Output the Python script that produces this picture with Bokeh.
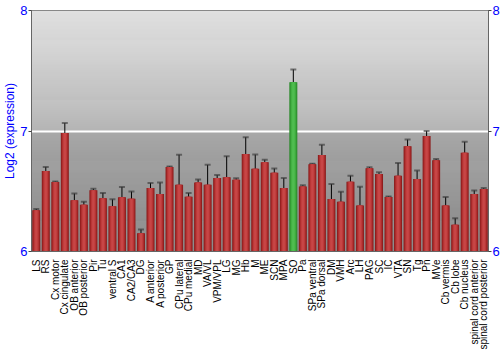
import numpy as np
from bokeh.plotting import figure
from bokeh.models import (ColumnDataSource, Whisker, TeeHead, BoxAnnotation,
                          FixedTicker, LinearAxis, Range1d)
from bokeh.embed import file_html
from bokeh.resources import INLINE

categories = ["LS", "RS", "Cx motor", "Cx cingulate", "OB anterior", "OB posterior",
              "Pir", "Tu", "ventral S", "CA1", "CA2/CA3", "DG", "A anterior",
              "A posterior", "GP", "CPu lateral", "CPu medial", "MD", "VA/VL",
              "VPM/VPL", "LG", "MG", "Hb", "M", "ME", "SCN", "MPA", "SO", "Pa",
              "SPa ventral", "SPa dorsal", "DM", "VMH", "Arc", "LH", "PAG", "SC",
              "IC", "VTA", "SN", "Tg", "Pn", "MVe", "Cb vermis", "Cb lobe",
              "Cb nucleus", "spinal cord anterior", "spinal cord posterior"]
values = [6.343, 6.669, 6.577, 6.983, 6.426, 6.387, 6.509, 6.442, 6.376, 6.450,
          6.437, 6.152, 6.528, 6.478, 6.702, 6.554, 6.455, 6.573, 6.554, 6.609,
          6.617, 6.595, 6.810, 6.686, 6.741, 6.653, 6.526, 7.405, 6.540, 6.725,
          6.800, 6.436, 6.413, 6.578, 6.382, 6.690, 6.643, 6.453, 6.629, 6.874,
          6.602, 6.958, 6.757, 6.382, 6.222, 6.820, 6.477, 6.518]
errors = [0.010, 0.033, 0.004, 0.083, 0.055, 0.026, 0.012, 0.044, 0.057, 0.086,
          0.061, 0.030, 0.041, 0.094, 0.004, 0.249, 0.030, 0.025, 0.165, 0.025,
          0.174, 0.012, 0.139, 0.118, 0.020, 0.036, 0.083, 0.106, 0.010, 0.004,
          0.085, 0.124, 0.083, 0.051, 0.155, 0.010, 0.014, 0.004, 0.106, 0.055,
          0.070, 0.043, 0.010, 0.070, 0.054, 0.090, 0.030, 0.008]
highlight = "SO"
y_ticks = [6, 7, 8]

n = len(categories)
x = np.arange(n) + 0.5
vals = np.array(values)
errs = np.array(errors)
is_hi = [c == highlight for c in categories]

src = ColumnDataSource(dict(
    x=x, top=vals, upper=vals + errs, lower=vals - errs,
    c0=["#2b8a2b" if h else "#8c1c1c" for h in is_hi],
    c1=["#38a038" if h else "#a82a2a" for h in is_hi],
    c2=["#46b446" if h else "#bd3a3a" for h in is_hi],
    c3=["#50bc50" if h else "#c74646" for h in is_hi],
))

p = figure(width=500, height=350, output_backend="svg", toolbar_location=None,
           x_range=Range1d(0, n), y_range=Range1d(6, 8),
           min_border_left=0, min_border_right=0, min_border_top=10,
           min_border_bottom=0, frame_width=457, frame_height=241)

# background gradient
ystart, yend = 6.0, 8.0
steps = 240
edges = np.linspace(ystart, yend, steps + 1)
for i in range(steps):
    mid = (edges[i] + edges[i + 1]) / 2
    if mid >= 7:
        t = (mid - 7) / 1.0
        g = 0xb4 + (0xf0 - 0xb4) * t
    else:
        t = (mid - 6) / 1.0
        g = 0x7e + (0xa8 - 0x7e) * t
    g = int(round(g))
    p.add_layout(BoxAnnotation(bottom=edges[i], top=edges[i + 1],
                               fill_color="#%02x%02x%02x" % (g, g, g),
                               fill_alpha=1, line_color=None, level="image"))

p.vbar(x="x", top="top", bottom=6, width=0.84, source=src, fill_color="c0", line_color=None)
p.vbar(x="x", top="top", bottom=6, width=0.66, source=src, fill_color="c1", line_color=None)
p.vbar(x="x", top="top", bottom=6, width=0.46, source=src, fill_color="c2", line_color=None)
p.vbar(x="x", top="top", bottom=6, width=0.24, source=src, fill_color="c3", line_color=None)

head = dict(size=6, line_color="#333333", line_alpha=0.6, line_width=2)
w = Whisker(source=src, base="x", upper="upper", lower="lower",
            line_color="black", line_width=1,
            upper_head=TeeHead(**head), lower_head=TeeHead(**head))
p.add_layout(w)

p.xgrid.visible = False
p.ygrid.ticker = FixedTicker(ticks=[7])
p.ygrid.grid_line_color = "white"
p.ygrid.grid_line_width = 2
p.outline_line_color = "#666666"
p.background_fill_color = "#b0b0b0"

# x axis
p.xaxis.ticker = FixedTicker(ticks=list(x))
p.xaxis.major_label_overrides = {float(xx): c for xx, c in zip(x, categories)}
p.xaxis.major_label_orientation = np.pi / 2
p.xaxis.major_tick_line_color = None
p.xaxis.minor_tick_line_color = None
p.xaxis.axis_line_color = "#666666"
p.xaxis.major_label_text_font = "Liberation Sans"
p.xaxis.major_label_text_font_size = "10px"
p.xaxis.major_label_text_color = "black"
p.xaxis.major_label_standoff = 2

# left y axis
ya = p.yaxis[0]
ya.ticker = FixedTicker(ticks=y_ticks)
ya.axis_label = "Log2 (expression)"
ya.axis_label_text_color = "#0000ff"
ya.axis_label_text_font = "Liberation Sans"
ya.axis_label_text_font_style = "normal"
ya.axis_label_text_font_size = "12px"
ya.axis_label_standoff = 0
ya.major_label_text_color = "#0000ff"
ya.major_label_text_font = "Liberation Sans"
ya.major_label_text_font_size = "13px"
ya.major_label_standoff = 1
ya.major_tick_out = 3
ya.major_tick_in = 0
ya.minor_tick_line_color = None
ya.axis_line_color = "#666666"
ya.major_tick_line_color = "#444444"

ra = LinearAxis(ticker=FixedTicker(ticks=y_ticks))
ra.major_label_text_color = "#0000ff"
ra.major_label_text_font = "Liberation Sans"
ra.major_label_text_font_size = "13px"
ra.major_label_standoff = 1
ra.major_tick_out = 3
ra.major_tick_in = 0
ra.minor_tick_line_color = None
ra.axis_line_color = "#666666"
ra.major_tick_line_color = "#444444"
p.add_layout(ra, "right")

open("out.html", "w").write(file_html(p, INLINE))
